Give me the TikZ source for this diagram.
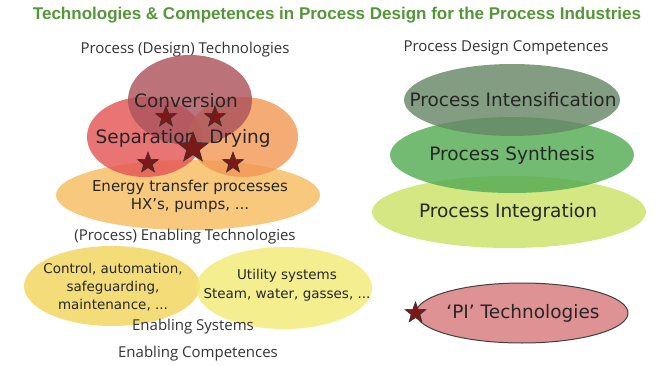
\documentclass[tikz,border=0pt]{standalone}
\usepackage{fontspec}
\setmainfont{DejaVu Sans}
\newfontfamily\titlefont{Liberation Sans}
\newfontfamily\labelfont{Open Sans}
\usepackage{xcolor}
\usetikzlibrary{shapes.geometric,positioning}

\definecolor{titlegreen}{RGB}{84,150,56}
\definecolor{convcol}{RGB}{172,84,92}
\definecolor{sepcol}{RGB}{228,86,86}
\definecolor{drycol}{RGB}{242,152,86}
\definecolor{encol}{RGB}{246,188,96}
\definecolor{ctrlcol}{RGB}{242,214,92}
\definecolor{utilcol}{RGB}{242,234,118}
\definecolor{intcol}{RGB}{104,136,104}
\definecolor{syncol}{RGB}{84,172,84}
\definecolor{integcol}{RGB}{202,226,104}
\definecolor{picol}{RGB}{216,122,124}
\definecolor{starcol}{RGB}{124,24,24}

\begin{document}
\begin{tikzpicture}[
  x=1pt, y=-1pt,
  blob/.style={ellipse, inner sep=0pt, fill opacity=.82},
  blobtext/.style={align=center, text=black!85, inner sep=0pt},
  big/.style={font=\fontsize{18.5}{20}\selectfont},
  caption/.style={font=\labelfont\fontsize{15}{17}\selectfont, text=black!80},
  pistar/.style={star, star points=5, star point ratio=2.4, fill=starcol,
                 draw=black!80, line width=.6pt, inner sep=0pt}
]
\useasboundingbox (0,0) rectangle (663,366);

\node[font=\titlefont\bfseries\fontsize{17}{19}\selectfont, text=titlegreen]
  (title) at (337,15) {Technologies \& Competences in Process Design for the Process Industries};

% process technologies
\node[caption] (techlbl) at (185,50) {Process (Design) Technologies};
\node[blob, fill=encol, minimum width=264pt, minimum height=70pt] (energy) at (188,195) {};
\node[blob, fill=sepcol, minimum width=116pt, minimum height=80pt] (sep) at (145,137) {};
\node[blob, fill=drycol, minimum width=110pt, minimum height=80pt] (dry) at (243,137) {};
\node[blob, fill=convcol, minimum width=124pt, minimum height=90pt] (conv) at (190,100) {};

\node[blobtext, font=\fontsize{15}{18}\selectfont] (energytxt) at (190,196)
  {Energy transfer processes\\HX's, pumps, ...};
\node[blobtext, big] (septxt) at (146,138) {Separation};
\node[blobtext, big] (drytxt) at (240,138) {Drying};
\node[blobtext, big] (convtxt) at (186,101) {Conversion};

\node[pistar, minimum size=22pt] (s1) at (166,117) {};
\node[pistar, minimum size=22pt] (s2) at (215,117) {};
\node[pistar, minimum size=22pt] (s3) at (148,163) {};
\node[pistar, minimum size=22pt] (s4) at (233,163) {};
\node[pistar, minimum size=32pt] (s5) at (193,148) {};

% enabling technologies
\node[caption] (enablbl) at (185,237) {(Process) Enabling Technologies};
\node[blob, fill=ctrlcol, minimum width=176pt, minimum height=80pt] (ctrl) at (112,286) {};
\node[blob, fill=utilcol, minimum width=176pt, minimum height=82pt] (util) at (284,288) {};
\node[blobtext, font=\fontsize{13.5}{18}\selectfont] (ctrltxt) at (113,287)
  {Control, automation,\\safeguarding,\\maintenance, ...};
\node[blobtext, font=\fontsize{13.5}{19}\selectfont] (utiltxt) at (287,285)
  {Utility systems\\Steam, water, gasses, ...};
\node[caption] (syslbl) at (193,327) {Enabling Systems};
\node[caption] (complbl) at (198,354) {Enabling Competences};

% design competences
\node[caption] (desiglbl) at (506,48) {Process Design Competences};
\node[blob, fill=integcol, minimum width=274pt, minimum height=72pt] (integ) at (509,212) {};
\node[blob, fill=syncol, minimum width=244pt, minimum height=76pt] (synth) at (512,155) {};
\node[blob, fill=intcol, minimum width=216pt, minimum height=72pt] (intens) at (512,100) {};
\node[blobtext, big] (integtxt) at (508,212) {Process Integration};
\node[blobtext, big] (synthtxt) at (512,155) {Process Synthesis};
\node[blobtext, big] (intenstxt) at (513,100) {Process Intensification};

% legend
\node[blob, fill=picol, draw=black!75, line width=1pt, minimum width=212pt,
      minimum height=60pt] (pi) at (522,313) {};
\node[blobtext, big] (pitxt) at (523,313) {`PI' Technologies};
\node[pistar, minimum size=22pt] (pistar1) at (pi.west) {};
\end{tikzpicture}
\end{document}
